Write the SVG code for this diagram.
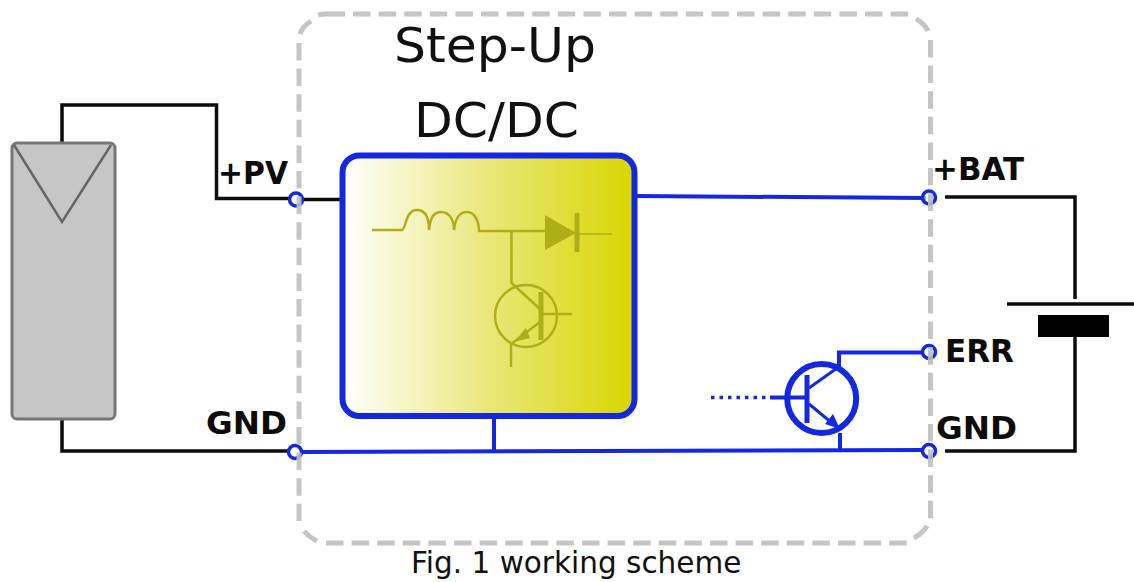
<svg xmlns="http://www.w3.org/2000/svg" width="1134" height="582" viewBox="0 0 1134 582">
<defs>
<linearGradient id="yg" x1="0" y1="0" x2="1" y2="0"><stop offset="0" stop-color="#ffffff"/><stop offset="0.5" stop-color="#e9e77a"/><stop offset="1" stop-color="#d8d600"/></linearGradient>
</defs>
<style>
.k{fill:none;stroke:#0c0c0c;stroke-width:3.500}
.b{fill:none;stroke:#1428e0;stroke-width:4}
.t{fill:none;stroke:#1428e0;stroke-width:3}
.r{fill:#fff;fill-opacity:.6;stroke:#1428e0;stroke-width:3.500}
.o{fill:none;stroke:#b0ae18;stroke-width:2.500}
.g{fill:none;stroke:#bfbfbf;stroke-width:5}
.d{stroke-dasharray:17.500 8.100}
.l{font-family:"DejaVu Sans",sans-serif;font-weight:bold;font-size:32px;fill:#0c0c0c}
.h{font-family:"DejaVu Sans",sans-serif;font-size:48px;fill:#111}
</style>
<rect width="1134" height="582" fill="#fff"/>
<g id="connectors">
<path class="k" d="M62 143V105H216.500V198.500H290"/>
<path class="k" d="M303 199.500H341"/>
<path class="k" d="M62 418V451H289"/>
<path class="k" d="M945 197H1075V299"/>
<path class="k" d="M945 451H1075V336"/>
<path class="b" d="M636 196L926 198"/>
<path class="b" d="M300 452L924 450"/>
<path class="b" d="M494 416V452"/>
<path class="b" d="M840 433V450"/>
<path class="b" d="M839 366V352.500H923"/>
<path d="M711 397.500H770" fill="none" stroke="#1428e0" stroke-width="3.500" stroke-dasharray="3.500 5"/>
<path class="b" d="M770 397.500H806"/>
</g>
<g id="pv-panel">
<rect x="12" y="143" width="103" height="276" rx="5" fill="#c6c6c6" stroke="#777" stroke-width="3"/>
<path d="M14 145L62 222L111 145" fill="none" stroke="#666" stroke-width="2.500"/>
</g>
<g id="converter">
<rect x="342.500" y="155.500" width="292" height="260.500" rx="17" fill="url(#yg)" stroke="#1428e0" stroke-width="6"/>
<path class="o" d="M372 230H402C406 230 405 210 417 210C427 210 429 221 429 230C430 221 432 212 441 212C450 212 454 221 454 230C455 221 458 212 467 212C475 212 479 222 479 231H545"/>
<path d="M545 215L576 233L545 250Z" fill="#b0ae18"/>
<path d="M577 213V252" fill="none" stroke="#b0ae18" stroke-width="5"/>
<path d="M578 234H612" fill="none" stroke="#b0ae18" stroke-width="1.500"/>
<path class="o" d="M511.500 231V283L541 310"/>
<circle class="o" cx="526" cy="316" r="31"/>
<path d="M541 292V340" fill="none" stroke="#b0ae18" stroke-width="5"/>
<path class="o" d="M541 314H572"/>
<path class="o" d="M540 322L511 344V367"/>
<path d="M514 342L526 328L530 338Z" fill="#b0ae18"/>
</g>
<g id="transistor">
<circle cx="821.700" cy="398.500" r="34.500" fill="none" stroke="#1428e0" stroke-width="6"/>
<path d="M807 375V423" fill="none" stroke="#1428e0" stroke-width="5"/>
<path class="t" d="M809 388L840 366"/>
<path class="t" d="M809 404L838 428"/>
<path d="M840 429L825 424L833 414Z" fill="#1428e0"/>
</g>
<g id="terminal-pv"><circle class="r" cx="296" cy="199.500" r="6.500"/></g>
<g id="terminal-gnd-left"><circle class="r" cx="295" cy="452" r="6.500"/></g>
<g id="terminal-bat"><circle class="r" cx="929" cy="197.500" r="6.500"/></g>
<g id="terminal-err"><circle class="r" cx="929" cy="352" r="6.500"/></g>
<g id="terminal-gnd-right"><circle class="r" cx="929" cy="451" r="6.500"/></g>
<g id="boundary" opacity=".9">
<path class="g" d="M345 14H327Q321 14 318 15"/>
<path class="g" d="M311 21Q302 27 300 34"/>
<path class="g d" d="M353 14H910"/>
<path class="g" d="M916 19Q924 23 928 31"/>
<path class="g d" d="M299 43V521"/>
<path class="g d" d="M930.500 40V519"/>
<path class="g" d="M304 531Q309 537 317 541"/>
<path class="g d" d="M326 543H907"/>
<path class="g" d="M914 538Q923 533 927 526"/>
</g>
<g id="labels">
<text class="h" x="394" y="62" textLength="202" lengthAdjust="spacingAndGlyphs">Step-Up</text>
<text class="h" x="414" y="137" textLength="165" lengthAdjust="spacingAndGlyphs">DC/DC</text>
<text class="l" x="218" y="184" textLength="70" lengthAdjust="spacingAndGlyphs">+PV</text>
<text class="l" x="206" y="434" textLength="81" lengthAdjust="spacingAndGlyphs">GND</text>
<text class="l" x="932" y="180" textLength="92" lengthAdjust="spacingAndGlyphs">+BAT</text>
<text class="l" x="945" y="362" textLength="69" lengthAdjust="spacingAndGlyphs">ERR</text>
<text class="l" x="936" y="439" textLength="81" lengthAdjust="spacingAndGlyphs">GND</text>
<text x="411" y="573" font-family="DejaVu Sans, sans-serif" font-size="29.500" fill="#111">Fig. 1 working scheme</text>
</g>
<g id="battery">
<path d="M1007 304H1134" fill="none" stroke="#0c0c0c" stroke-width="3.500"/>
<rect x="1038" y="315" width="71" height="22" fill="#000"/>
</g>
</svg>
